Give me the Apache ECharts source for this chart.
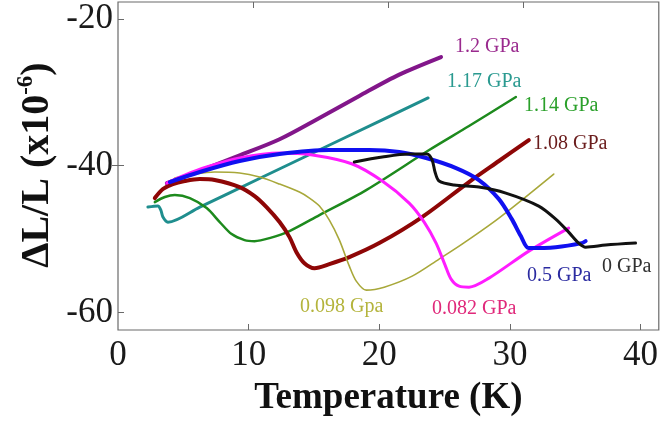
<!DOCTYPE html>
<html>
<head>
<meta charset="utf-8">
<script src="https://cdn.jsdelivr.net/npm/echarts@6/dist/echarts.min.js"></script>
<style>
html,body{margin:0;padding:0;background:#fff;}
#chart{width:661px;height:424px;}
</style>
</head>
<body>
<div id="chart"></div>
<script>
// ---- data (Temperature K, ΔL/L x1e-6) ----
var seriesNames = ['1.2 GPa','1.17 GPa','1.14 GPa','1.08 GPa','0.098 Gpa','0.082 GPa','0.5 GPa','0 GPa'];

var t120 = [3.74, 6.26, 9.31, 12.37, 15.42, 18.47, 21.53, 24.73];
var v120 = [-42.4, -40.7, -38.6, -36.4, -33.5, -30.5, -27.6, -25.2];

var t117 = [2.29, 3.05, 3.28, 3.44, 3.82, 6.26, 11.07, 17.48, 23.74];
var v117 = [-45.65, -45.5, -46.06, -47.0, -47.7, -45.65, -41.55, -36.1, -30.78];

var t114 = [2.82, 3.59, 4.35, 5.50, 6.79, 7.79, 8.70, 9.69, 10.46, 11.6, 13.13, 15.42, 19.0, 23.82, 26.87, 30.46];
var v114 = [-44.97, -44.28, -44.01, -44.42, -45.78, -47.69, -49.33, -50.15, -50.29, -49.88, -48.92, -46.74, -43.33, -37.87, -34.6, -30.64];

var t108 = [2.82, 3.44, 4.2, 5.11, 6.26, 7.4, 9.31, 10.46, 11.37, 12.37, 13.13, 13.66, 14.27, 15.04, 16.18, 17.71, 20.0, 23.28, 26.87, 29.16, 31.45];
var v108 = [-44.42, -43.19, -42.51, -42.1, -41.83, -41.96, -42.92, -44.15, -45.65, -47.69, -49.74, -51.79, -53.29, -53.97, -53.42, -52.47, -50.56, -47.01, -42.24, -39.37, -36.51];

var t0098 = [4.35, 5.88, 7.4, 9.31, 10.84, 12.37, 13.89, 14.66, 15.42, 16.18, 16.95, 17.71, 18.24, 19.01, 20.38, 22.52, 24.58, 26.34, 29.16, 33.36];
var v0098 = [-41.69, -41.15, -40.87, -41.01, -41.56, -42.51, -43.6, -44.42, -45.51, -47.42, -50.15, -53.7, -55.74, -56.97, -56.56, -55.06, -52.74, -50.7, -47.15, -41.15];

var t0082 = [3.74, 5.11, 6.79, 9.31, 12.37, 14.89, 17.94, 20.23, 22.29, 23.44, 24.35, 25.04, 25.5, 26.11, 26.87, 28.4, 31.45, 34.5];
var v0082 = [-42.37, -41.28, -40.19, -38.96, -38.28, -38.55, -39.78, -42.1, -45.1, -47.69, -50.56, -53.56, -55.47, -56.43, -56.56, -55.33, -51.65, -48.51];

var t05 = [3.97, 6.26, 9.31, 12.37, 16.18, 19.24, 21.53, 23.59, 25.88, 27.63, 29.16, 30.15, 30.84, 31.45, 33.51, 35.5, 35.8];
var v05 = [-42.24, -40.87, -39.37, -38.42, -37.87, -37.87, -38.14, -38.96, -40.33, -41.96, -44.56, -47.29, -49.6, -51.24, -51.11, -50.56, -50.29];

var t0 = [18.09, 20.23, 22.29, 23.66, 24.05, 24.27, 24.58, 25.73, 27.63, 29.69, 32.21, 33.51, 34.5, 35.27, 35.8, 37.33, 39.62];
var v0 = [-39.51, -38.83, -38.42, -38.42, -39.24, -40.87, -42.1, -42.65, -42.92, -43.74, -45.51, -47.29, -49.06, -50.56, -51.11, -50.83, -50.56];

var xTicks = [0, 10, 20, 30, 40];
var yTicks = [-60, -40, -20];

// ---- build ----
function pairs(t, v){ return t.map(function(x,i){ return [x, v[i]]; }); }

var lineColors = ['#82168a', '#1f8e8e', '#1d8a1d', '#8e0606', '#a8a83a', '#ff1cff', '#1010f0', '#111111'];
var lineWidths = [4, 3, 2.5, 4, 1.6, 3, 4, 3];
var allData = [
  pairs(t120, v120), pairs(t117, v117), pairs(t114, v114), pairs(t108, v108),
  pairs(t0098, v0098), pairs(t0082, v0082), pairs(t05, v05), pairs(t0, v0)
];

var series = allData.map(function(d, i){
  return {
    name: seriesNames[i], type: 'line', data: d,
    xAxisIndex: 0, yAxisIndex: 0,
    showSymbol: false, smooth: 0.3,
    lineStyle: { color: lineColors[i], width: lineWidths[i], join: 'round', cap: 'round' },
    itemStyle: { color: lineColors[i] }
  };
});

var labelFont = '"Liberation Serif", "Times New Roman", serif';
function lab(text, x, y, color){
  return { type: 'text', left: x, top: y, style: { text: text, fill: color, font: '20px ' + labelFont } };
}

var chart = echarts.init(document.getElementById('chart'), null, { renderer: 'canvas' });
chart.setOption({
  animation: false,
  backgroundColor: '#fff',
  grid: { left: 118, right: 1, top: 2, bottom: 94, show: true, borderColor: '#6a6a6a', borderWidth: 1.2, backgroundColor: 'transparent' },
  xAxis: [
    {
      type: 'value', position: 'bottom', min: 0, max: 41.4,
      axisLine: { show: false },
      axisTick: { show: true, inside: true, length: 6, customValues: [10, 20, 30, 40], lineStyle: { color: '#6a6a6a' } },
      axisLabel: { customValues: xTicks, fontSize: 35, fontFamily: labelFont, color: '#1a1a1a', margin: 8 },
      splitLine: { show: false },
      name: 'Temperature (K)', nameLocation: 'middle', nameGap: 50,
      nameTextStyle: { fontSize: 37, fontWeight: 'bold', fontFamily: labelFont, color: '#111' }
    },
    {
      type: 'value', position: 'top', min: 0, max: 40,
      axisLine: { show: false },
      axisTick: { show: true, inside: true, length: 6, customValues: [10, 20, 30], lineStyle: { color: '#6a6a6a' } },
      axisLabel: { show: false },
      splitLine: { show: false }
    }
  ],
  yAxis: [
    {
      type: 'value', position: 'left', min: -62.4, max: -17.7,
      axisLine: { show: false },
      axisTick: { show: true, inside: true, length: 6, customValues: yTicks, lineStyle: { color: '#6a6a6a' } },
      axisLabel: { customValues: yTicks, fontSize: 35, fontFamily: labelFont, color: '#1a1a1a', margin: 5 },
      splitLine: { show: false }
    },
    {
      type: 'value', position: 'right', min: -62.4, max: -17.7,
      axisLine: { show: false },
      axisTick: { show: true, inside: true, length: 6, customValues: [-40], lineStyle: { color: '#6a6a6a' } },
      axisLabel: { show: false },
      splitLine: { show: false }
    }
  ],
  series: series,
  graphic: [
    {
      type: 'text', x: 38, y: 165, rotation: Math.PI / 2,
      style: {
        text: '{m|ΔL/L (x10}{s|-6}{m|)}',
        align: 'center', verticalAlign: 'middle',
        rich: {
          m: { font: 'bold 40px ' + labelFont, fill: '#111', lineHeight: 46 },
          s: { font: 'bold 23px ' + labelFont, fill: '#111', verticalAlign: 'top', lineHeight: 46 }
        }
      }
    },
    lab('1.2 GPa', 455, 37, '#9a2a8e'),
    lab('1.17 GPa', 447, 72, '#2a9a90'),
    lab('1.14 GPa', 524, 96, '#2aa02a'),
    lab('1.08 GPa', 533, 134, '#6a1c1c'),
    lab('0 GPa', 602, 257, '#303030'),
    lab('0.5 GPa', 527, 266, '#2a2aa0'),
    lab('0.082 GPa', 432, 299, '#e0287a'),
    lab('0.098 Gpa', 300, 297, '#b4b43c')
  ]
});
</script>
</body>
</html>
